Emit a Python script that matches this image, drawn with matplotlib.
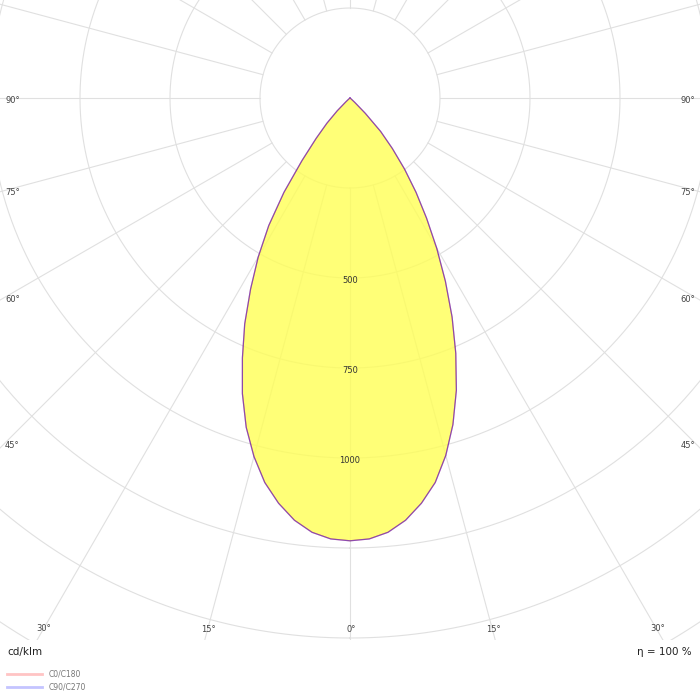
import numpy as np
import matplotlib
matplotlib.use("Agg")
import matplotlib.pyplot as plt
from matplotlib.patches import Rectangle
from matplotlib.lines import Line2D

# luminous intensity (cd/klm) vs gamma angle
gamma = [0, 2.5, 5, 7.5, 10, 12.5, 15, 17.5, 20, 22.5, 25, 27.5, 30, 32.5, 35,
         37.5, 40, 42.5, 45, 47.5, 50, 52.5, 55, 60, 70, 80, 90]
i_left = [1230, 1226, 1211, 1183, 1143, 1094, 1031, 959, 874, 781, 692, 598, 510,
          420, 320, 219, 146, 95, 50, 15, 5, 2, 0, 0, 0, 0, 0]
i_right = [1230, 1226, 1211, 1183, 1143, 1094, 1028, 951, 864, 768, 671, 574, 482,
           396, 320, 249, 183, 126, 60, 18, 5, 2, 0, 0, 0, 0, 0]

# both C-plane pairs give the same curve
planes = ["C0/C180", "C90/C270"]
plane_colors = ["#ff0000", "#0000ff"]
legend_colors = ["#ffc4c4", "#c4c4ff"]

ring_values = [250, 500, 750, 1000, 1250, 1500, 1750]
ring_labels = [500, 750, 1000]
side_angles = [45, 60, 75, 90]
bottom_angles = [0, 15, 30]
eta = "η = 100 %"

W = 700
scale = 0.36          # px per cd/klm
rmax = 1800
cx, cy = 350, 98      # pole position in image pixels (y down)

fig = plt.figure(figsize=(7, 7), dpi=100)
R = rmax * scale
ax = fig.add_axes([(cx - R) / W, (W - cy - R) / W, 2 * R / W, 2 * R / W],
                  projection="polar")
ax.set_theta_zero_location("S")
ax.set_ylim(0, rmax)
ax.set_axis_off()

clip = Rectangle((0, 60 / W), 1, 640 / W, transform=fig.transFigure)

arts = []
th = np.linspace(0, 2 * np.pi, 721)
for rv in ring_values:
    arts += ax.plot(th, np.full_like(th, rv), color="#e0e0e0", lw=0.8, zorder=1)
for a in range(0, 360, 15):
    t = np.radians(a)
    arts += ax.plot([t, t], [250, rmax], color="#e0e0e0", lw=0.8, zorder=1)

g = np.radians(gamma)
theta = np.concatenate([-g[::-1], g[1:]])
vals = np.concatenate([np.array(i_left)[::-1], np.array(i_right)[1:]])
arts += ax.fill(theta, vals, color="#ffff55", alpha=0.8, lw=0, zorder=2)
for name, col in zip(planes, plane_colors):
    arts += ax.plot(theta, vals, color=col, lw=0.9, alpha=0.45, zorder=3)

for a in arts:
    a.set_clip_path(clip)

# ring value labels along the 0 deg axis
for v in ring_labels:
    ax.annotate(str(v), xy=(0, v), xytext=(0, -1.5), textcoords="offset points",
                ha="center", va="center", fontsize=6, color="#333333")

# angle labels on the left / right edges
for a in side_angles:
    r = (cx - 5) / np.sin(np.radians(a)) / scale
    ax.annotate(f"{a}°", xy=(-np.radians(a), r), xytext=(0, -1.5),
                textcoords="offset points", ha="left", va="center",
                fontsize=6, color="#444444", annotation_clip=False)
    ax.annotate(f"{a}°", xy=(np.radians(a), r), xytext=(0, -1.5),
                textcoords="offset points", ha="right", va="center",
                fontsize=6, color="#444444", annotation_clip=False)

# angle labels along the bottom edge
for a in bottom_angles:
    r = (629 - cy) / np.cos(np.radians(a)) / scale
    for s in ([1] if a == 0 else [-1, 1]):
        ax.annotate(f"{a}°", xy=(s * np.radians(a), r), xytext=(0.5, 0),
                    textcoords="offset points", ha="center", va="center",
                    fontsize=6, color="#444444", annotation_clip=False)

fig.text(7 / W, 1 - 652 / W, "cd/klm", fontsize=7.5, color="#222222",
         ha="left", va="center")
fig.text(692 / W, 1 - 652 / W, eta, fontsize=7.5, color="#222222",
         ha="right", va="center")

for k, (name, col) in enumerate(zip(planes, legend_colors)):
    yy = 1 - (674 + 13 * k) / W
    fig.add_artist(Line2D([7 / W, 42 / W], [yy, yy], color=col, lw=2,
                          transform=fig.transFigure))
    fig.text(49 / W, yy, name, fontsize=5.5, color="#777777",
             ha="left", va="center")

fig.savefig("out.png", dpi=100, facecolor="white")
